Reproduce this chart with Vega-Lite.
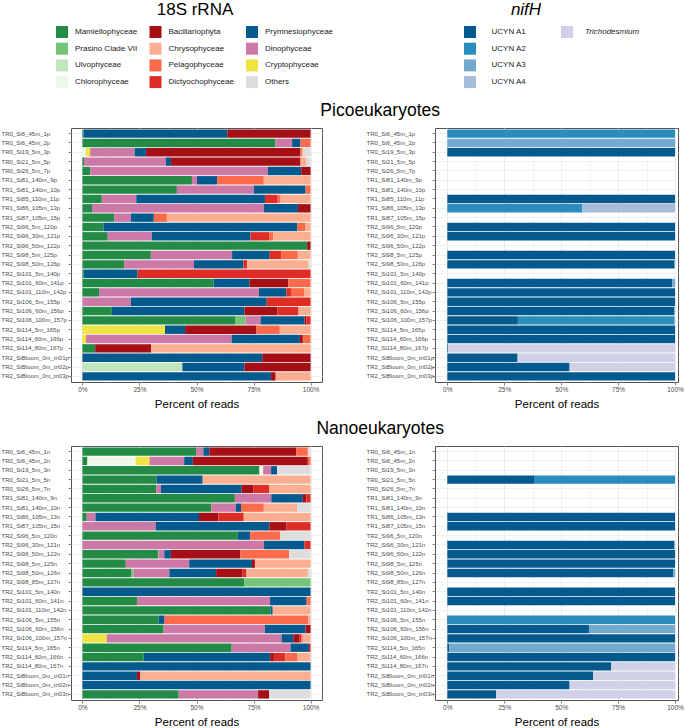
{
  "$schema": "https://vega.github.io/schema/vega-lite/v6.json",
  "padding": {"left": 0, "top": 0, "right": 0, "bottom": 0},
  "background": "white",
  "config": {
    "font": "Liberation Sans",
    "view": {"stroke": "#555555", "strokeWidth": 1},
    "title": {"fontSize": 17.5, "fontWeight": "normal", "color": "#000000", "anchor": "middle", "offset": 8, "dx": 38}
  },
  "datasets": {
    "taxa18S": [
      {"taxon": "Mamiellophyceae", "rank": 1},
      {"taxon": "Prasino Clade VII", "rank": 2},
      {"taxon": "Ulvophyceae", "rank": 3},
      {"taxon": "Chlorophyceae", "rank": 4},
      {"taxon": "Cryptophyceae", "rank": 5},
      {"taxon": "Dinophyceae", "rank": 6},
      {"taxon": "Prymnesiophyceae", "rank": 7},
      {"taxon": "Bacillariophyta", "rank": 8},
      {"taxon": "Dictyochophyceae", "rank": 9},
      {"taxon": "Pelagophyceae", "rank": 10},
      {"taxon": "Chrysophyceae", "rank": 11},
      {"taxon": "Others", "rank": 12}
    ],
    "taxaNif": [
      {"taxon": "UCYN A1", "rank": 1},
      {"taxon": "UCYN A2", "rank": 2},
      {"taxon": "UCYN A3", "rank": 3},
      {"taxon": "UCYN A4", "rank": 4},
      {"taxon": "Trichodesmium", "rank": 5}
    ],
    "pico18S": [
      {"sample": "TR0_St6_45m_1p", "taxon": "Mamiellophyceae", "pct": 0.5},
      {"sample": "TR0_St6_45m_1p", "taxon": "Prymnesiophyceae", "pct": 63.0},
      {"sample": "TR0_St6_45m_1p", "taxon": "Bacillariophyta", "pct": 36.5},
      {"sample": "TR0_St6_45m_2p", "taxon": "Mamiellophyceae", "pct": 84.6},
      {"sample": "TR0_St6_45m_2p", "taxon": "Dinophyceae", "pct": 7.3},
      {"sample": "TR0_St6_45m_2p", "taxon": "Prymnesiophyceae", "pct": 3.7},
      {"sample": "TR0_St6_45m_2p", "taxon": "Pelagophyceae", "pct": 4.4},
      {"sample": "TR0_St19_5m_3p", "taxon": "Chlorophyceae", "pct": 1.5},
      {"sample": "TR0_St19_5m_3p", "taxon": "Cryptophyceae", "pct": 1.9},
      {"sample": "TR0_St19_5m_3p", "taxon": "Dinophyceae", "pct": 19.5},
      {"sample": "TR0_St19_5m_3p", "taxon": "Prymnesiophyceae", "pct": 5.0},
      {"sample": "TR0_St19_5m_3p", "taxon": "Bacillariophyta", "pct": 67.6},
      {"sample": "TR0_St19_5m_3p", "taxon": "Pelagophyceae", "pct": 0.7},
      {"sample": "TR0_St19_5m_3p", "taxon": "Chrysophyceae", "pct": 0.5},
      {"sample": "TR0_St19_5m_3p", "taxon": "Others", "pct": 3.3},
      {"sample": "TR0_St21_5m_5p", "taxon": "Mamiellophyceae", "pct": 0.7},
      {"sample": "TR0_St21_5m_5p", "taxon": "Dinophyceae", "pct": 35.9},
      {"sample": "TR0_St21_5m_5p", "taxon": "Prymnesiophyceae", "pct": 2.2},
      {"sample": "TR0_St21_5m_5p", "taxon": "Bacillariophyta", "pct": 56.8},
      {"sample": "TR0_St21_5m_5p", "taxon": "Chrysophyceae", "pct": 2.6},
      {"sample": "TR0_St21_5m_5p", "taxon": "Others", "pct": 1.8},
      {"sample": "TR0_St26_5m_7p", "taxon": "Mamiellophyceae", "pct": 3.4},
      {"sample": "TR0_St26_5m_7p", "taxon": "Dinophyceae", "pct": 77.9},
      {"sample": "TR0_St26_5m_7p", "taxon": "Prymnesiophyceae", "pct": 14.6},
      {"sample": "TR0_St26_5m_7p", "taxon": "Bacillariophyta", "pct": 4.1},
      {"sample": "TR1_St81_140m_9p", "taxon": "Mamiellophyceae", "pct": 48.0},
      {"sample": "TR1_St81_140m_9p", "taxon": "Dinophyceae", "pct": 2.2},
      {"sample": "TR1_St81_140m_9p", "taxon": "Prymnesiophyceae", "pct": 8.8},
      {"sample": "TR1_St81_140m_9p", "taxon": "Pelagophyceae", "pct": 20.5},
      {"sample": "TR1_St81_140m_9p", "taxon": "Chrysophyceae", "pct": 20.5},
      {"sample": "TR1_St81_140m_10p", "taxon": "Mamiellophyceae", "pct": 41.4},
      {"sample": "TR1_St81_140m_10p", "taxon": "Dinophyceae", "pct": 33.7},
      {"sample": "TR1_St81_140m_10p", "taxon": "Prymnesiophyceae", "pct": 22.7},
      {"sample": "TR1_St81_140m_10p", "taxon": "Pelagophyceae", "pct": 2.2},
      {"sample": "TR1_St85_110m_11p", "taxon": "Mamiellophyceae", "pct": 8.5},
      {"sample": "TR1_St85_110m_11p", "taxon": "Dinophyceae", "pct": 15.1},
      {"sample": "TR1_St85_110m_11p", "taxon": "Prymnesiophyceae", "pct": 56.4},
      {"sample": "TR1_St85_110m_11p", "taxon": "Dictyochophyceae", "pct": 5.6},
      {"sample": "TR1_St85_110m_11p", "taxon": "Pelagophyceae", "pct": 1.3},
      {"sample": "TR1_St85_110m_11p", "taxon": "Chrysophyceae", "pct": 13.1},
      {"sample": "TR1_St86_105m_13p", "taxon": "Mamiellophyceae", "pct": 4.2},
      {"sample": "TR1_St86_105m_13p", "taxon": "Dinophyceae", "pct": 75.4},
      {"sample": "TR1_St86_105m_13p", "taxon": "Prymnesiophyceae", "pct": 14.9},
      {"sample": "TR1_St86_105m_13p", "taxon": "Bacillariophyta", "pct": 5.5},
      {"sample": "TR1_St87_105m_15p", "taxon": "Mamiellophyceae", "pct": 13.9},
      {"sample": "TR1_St87_105m_15p", "taxon": "Dinophyceae", "pct": 7.3},
      {"sample": "TR1_St87_105m_15p", "taxon": "Prymnesiophyceae", "pct": 10.1},
      {"sample": "TR1_St87_105m_15p", "taxon": "Pelagophyceae", "pct": 5.7},
      {"sample": "TR1_St87_105m_15p", "taxon": "Chrysophyceae", "pct": 63.0},
      {"sample": "TR2_St96_5m_120p", "taxon": "Mamiellophyceae", "pct": 9.2},
      {"sample": "TR2_St96_5m_120p", "taxon": "Prymnesiophyceae", "pct": 84.9},
      {"sample": "TR2_St96_5m_120p", "taxon": "Pelagophyceae", "pct": 3.7},
      {"sample": "TR2_St96_5m_120p", "taxon": "Chrysophyceae", "pct": 2.2},
      {"sample": "TR2_St96_30m_121p", "taxon": "Mamiellophyceae", "pct": 11.1},
      {"sample": "TR2_St96_30m_121p", "taxon": "Dinophyceae", "pct": 19.3},
      {"sample": "TR2_St96_30m_121p", "taxon": "Prymnesiophyceae", "pct": 43.3},
      {"sample": "TR2_St96_30m_121p", "taxon": "Dictyochophyceae", "pct": 8.1},
      {"sample": "TR2_St96_30m_121p", "taxon": "Pelagophyceae", "pct": 1.8},
      {"sample": "TR2_St96_30m_121p", "taxon": "Chrysophyceae", "pct": 16.4},
      {"sample": "TR2_St96_50m_122p", "taxon": "Mamiellophyceae", "pct": 98.5},
      {"sample": "TR2_St96_50m_122p", "taxon": "Bacillariophyta", "pct": 1.5},
      {"sample": "TR2_St98_5m_125p", "taxon": "Mamiellophyceae", "pct": 30.0},
      {"sample": "TR2_St98_5m_125p", "taxon": "Dinophyceae", "pct": 35.6},
      {"sample": "TR2_St98_5m_125p", "taxon": "Prymnesiophyceae", "pct": 16.5},
      {"sample": "TR2_St98_5m_125p", "taxon": "Dictyochophyceae", "pct": 5.0},
      {"sample": "TR2_St98_5m_125p", "taxon": "Pelagophyceae", "pct": 7.3},
      {"sample": "TR2_St98_5m_125p", "taxon": "Chrysophyceae", "pct": 5.6},
      {"sample": "TR2_St98_50m_126p", "taxon": "Mamiellophyceae", "pct": 18.3},
      {"sample": "TR2_St98_50m_126p", "taxon": "Dinophyceae", "pct": 30.6},
      {"sample": "TR2_St98_50m_126p", "taxon": "Prymnesiophyceae", "pct": 21.7},
      {"sample": "TR2_St98_50m_126p", "taxon": "Dictyochophyceae", "pct": 1.6},
      {"sample": "TR2_St98_50m_126p", "taxon": "Chrysophyceae", "pct": 26.9},
      {"sample": "TR2_St98_50m_126p", "taxon": "Others", "pct": 0.9},
      {"sample": "TR2_St101_5m_140p", "taxon": "Mamiellophyceae", "pct": 0.6},
      {"sample": "TR2_St101_5m_140p", "taxon": "Prymnesiophyceae", "pct": 23.6},
      {"sample": "TR2_St101_5m_140p", "taxon": "Dictyochophyceae", "pct": 75.8},
      {"sample": "TR2_St101_60m_141p", "taxon": "Mamiellophyceae", "pct": 57.5},
      {"sample": "TR2_St101_60m_141p", "taxon": "Prymnesiophyceae", "pct": 15.8},
      {"sample": "TR2_St101_60m_141p", "taxon": "Bacillariophyta", "pct": 16.9},
      {"sample": "TR2_St101_60m_141p", "taxon": "Pelagophyceae", "pct": 9.8},
      {"sample": "TR2_St101_110m_142p", "taxon": "Mamiellophyceae", "pct": 7.3},
      {"sample": "TR2_St101_110m_142p", "taxon": "Dinophyceae", "pct": 70.1},
      {"sample": "TR2_St101_110m_142p", "taxon": "Prymnesiophyceae", "pct": 12.0},
      {"sample": "TR2_St101_110m_142p", "taxon": "Dictyochophyceae", "pct": 2.0},
      {"sample": "TR2_St101_110m_142p", "taxon": "Pelagophyceae", "pct": 5.7},
      {"sample": "TR2_St101_110m_142p", "taxon": "Chrysophyceae", "pct": 2.9},
      {"sample": "TR2_St106_5m_155p", "taxon": "Dinophyceae", "pct": 21.2},
      {"sample": "TR2_St106_5m_155p", "taxon": "Prymnesiophyceae", "pct": 59.6},
      {"sample": "TR2_St106_5m_155p", "taxon": "Dictyochophyceae", "pct": 19.2},
      {"sample": "TR2_St106_60m_156p", "taxon": "Mamiellophyceae", "pct": 12.9},
      {"sample": "TR2_St106_60m_156p", "taxon": "Prymnesiophyceae", "pct": 58.1},
      {"sample": "TR2_St106_60m_156p", "taxon": "Bacillariophyta", "pct": 14.5},
      {"sample": "TR2_St106_60m_156p", "taxon": "Dictyochophyceae", "pct": 9.2},
      {"sample": "TR2_St106_60m_156p", "taxon": "Chrysophyceae", "pct": 5.3},
      {"sample": "TR2_St106_100m_157p", "taxon": "Mamiellophyceae", "pct": 67.1},
      {"sample": "TR2_St106_100m_157p", "taxon": "Prasino Clade VII", "pct": 4.4},
      {"sample": "TR2_St106_100m_157p", "taxon": "Dinophyceae", "pct": 6.6},
      {"sample": "TR2_St106_100m_157p", "taxon": "Prymnesiophyceae", "pct": 19.3},
      {"sample": "TR2_St106_100m_157p", "taxon": "Bacillariophyta", "pct": 0.7},
      {"sample": "TR2_St106_100m_157p", "taxon": "Dictyochophyceae", "pct": 1.9},
      {"sample": "TR2_St114_5m_165p", "taxon": "Cryptophyceae", "pct": 36.2},
      {"sample": "TR2_St114_5m_165p", "taxon": "Prymnesiophyceae", "pct": 8.8},
      {"sample": "TR2_St114_5m_165p", "taxon": "Bacillariophyta", "pct": 31.3},
      {"sample": "TR2_St114_5m_165p", "taxon": "Pelagophyceae", "pct": 10.2},
      {"sample": "TR2_St114_5m_165p", "taxon": "Chrysophyceae", "pct": 13.5},
      {"sample": "TR2_St114_60m_166p", "taxon": "Cryptophyceae", "pct": 1.6},
      {"sample": "TR2_St114_60m_166p", "taxon": "Dinophyceae", "pct": 63.8},
      {"sample": "TR2_St114_60m_166p", "taxon": "Prymnesiophyceae", "pct": 29.9},
      {"sample": "TR2_St114_60m_166p", "taxon": "Bacillariophyta", "pct": 1.3},
      {"sample": "TR2_St114_60m_166p", "taxon": "Pelagophyceae", "pct": 3.4},
      {"sample": "TR2_St114_80m_167p", "taxon": "Mamiellophyceae", "pct": 5.6},
      {"sample": "TR2_St114_80m_167p", "taxon": "Bacillariophyta", "pct": 24.5},
      {"sample": "TR2_St114_80m_167p", "taxon": "Chrysophyceae", "pct": 69.9},
      {"sample": "TR2_StBloom_0m_tri01p", "taxon": "Prymnesiophyceae", "pct": 78.8},
      {"sample": "TR2_StBloom_0m_tri01p", "taxon": "Bacillariophyta", "pct": 21.2},
      {"sample": "TR2_StBloom_0m_tri02p", "taxon": "Ulvophyceae", "pct": 43.8},
      {"sample": "TR2_StBloom_0m_tri02p", "taxon": "Prymnesiophyceae", "pct": 27.2},
      {"sample": "TR2_StBloom_0m_tri02p", "taxon": "Bacillariophyta", "pct": 29.0},
      {"sample": "TR2_StBloom_0m_tri03p", "taxon": "Prymnesiophyceae", "pct": 82.7},
      {"sample": "TR2_StBloom_0m_tri03p", "taxon": "Bacillariophyta", "pct": 2.0},
      {"sample": "TR2_StBloom_0m_tri03p", "taxon": "Chrysophyceae", "pct": 15.3}
    ],
    "nano18S": [
      {"sample": "TR0_St6_45m_1n", "taxon": "Mamiellophyceae", "pct": 49.8},
      {"sample": "TR0_St6_45m_1n", "taxon": "Dinophyceae", "pct": 3.2},
      {"sample": "TR0_St6_45m_1n", "taxon": "Prymnesiophyceae", "pct": 2.6},
      {"sample": "TR0_St6_45m_1n", "taxon": "Bacillariophyta", "pct": 38.2},
      {"sample": "TR0_St6_45m_1n", "taxon": "Pelagophyceae", "pct": 5.0},
      {"sample": "TR0_St6_45m_1n", "taxon": "Others", "pct": 1.2},
      {"sample": "TR0_St6_45m_2n", "taxon": "Mamiellophyceae", "pct": 2.2},
      {"sample": "TR0_St6_45m_2n", "taxon": "Chlorophyceae", "pct": 21.1},
      {"sample": "TR0_St6_45m_2n", "taxon": "Cryptophyceae", "pct": 6.1},
      {"sample": "TR0_St6_45m_2n", "taxon": "Dinophyceae", "pct": 15.2},
      {"sample": "TR0_St6_45m_2n", "taxon": "Prymnesiophyceae", "pct": 3.8},
      {"sample": "TR0_St6_45m_2n", "taxon": "Bacillariophyta", "pct": 50.4},
      {"sample": "TR0_St6_45m_2n", "taxon": "Pelagophyceae", "pct": 1.2},
      {"sample": "TR0_St19_5m_3n", "taxon": "Mamiellophyceae", "pct": 77.6},
      {"sample": "TR0_St19_5m_3n", "taxon": "Chlorophyceae", "pct": 1.6},
      {"sample": "TR0_St19_5m_3n", "taxon": "Dinophyceae", "pct": 3.5},
      {"sample": "TR0_St19_5m_3n", "taxon": "Prymnesiophyceae", "pct": 2.6},
      {"sample": "TR0_St19_5m_3n", "taxon": "Others", "pct": 14.7},
      {"sample": "TR0_St21_5m_5n", "taxon": "Mamiellophyceae", "pct": 32.5},
      {"sample": "TR0_St21_5m_5n", "taxon": "Prymnesiophyceae", "pct": 20.2},
      {"sample": "TR0_St21_5m_5n", "taxon": "Chrysophyceae", "pct": 47.3},
      {"sample": "TR0_St26_5m_7n", "taxon": "Mamiellophyceae", "pct": 32.4},
      {"sample": "TR0_St26_5m_7n", "taxon": "Dinophyceae", "pct": 2.0},
      {"sample": "TR0_St26_5m_7n", "taxon": "Prymnesiophyceae", "pct": 35.4},
      {"sample": "TR0_St26_5m_7n", "taxon": "Bacillariophyta", "pct": 5.1},
      {"sample": "TR0_St26_5m_7n", "taxon": "Dictyochophyceae", "pct": 6.9},
      {"sample": "TR0_St26_5m_7n", "taxon": "Chrysophyceae", "pct": 18.2},
      {"sample": "TR1_St81_140m_9n", "taxon": "Mamiellophyceae", "pct": 66.8},
      {"sample": "TR1_St81_140m_9n", "taxon": "Dinophyceae", "pct": 16.0},
      {"sample": "TR1_St81_140m_9n", "taxon": "Prymnesiophyceae", "pct": 13.8},
      {"sample": "TR1_St81_140m_9n", "taxon": "Bacillariophyta", "pct": 1.6},
      {"sample": "TR1_St81_140m_9n", "taxon": "Dictyochophyceae", "pct": 1.8},
      {"sample": "TR1_St81_140m_10n", "taxon": "Mamiellophyceae", "pct": 56.5},
      {"sample": "TR1_St81_140m_10n", "taxon": "Dinophyceae", "pct": 10.7},
      {"sample": "TR1_St81_140m_10n", "taxon": "Prymnesiophyceae", "pct": 2.3},
      {"sample": "TR1_St81_140m_10n", "taxon": "Pelagophyceae", "pct": 10.0},
      {"sample": "TR1_St81_140m_10n", "taxon": "Chrysophyceae", "pct": 14.6},
      {"sample": "TR1_St81_140m_10n", "taxon": "Others", "pct": 5.9},
      {"sample": "TR1_St86_105m_13n", "taxon": "Mamiellophyceae", "pct": 1.9},
      {"sample": "TR1_St86_105m_13n", "taxon": "Dinophyceae", "pct": 3.8},
      {"sample": "TR1_St86_105m_13n", "taxon": "Prymnesiophyceae", "pct": 45.4},
      {"sample": "TR1_St86_105m_13n", "taxon": "Bacillariophyta", "pct": 8.5},
      {"sample": "TR1_St86_105m_13n", "taxon": "Dictyochophyceae", "pct": 11.1},
      {"sample": "TR1_St86_105m_13n", "taxon": "Chrysophyceae", "pct": 29.3},
      {"sample": "TR1_St87_105m_15n", "taxon": "Dinophyceae", "pct": 32.1},
      {"sample": "TR1_St87_105m_15n", "taxon": "Prymnesiophyceae", "pct": 49.8},
      {"sample": "TR1_St87_105m_15n", "taxon": "Bacillariophyta", "pct": 7.6},
      {"sample": "TR1_St87_105m_15n", "taxon": "Dictyochophyceae", "pct": 10.5},
      {"sample": "TR2_St96_5m_120n", "taxon": "Mamiellophyceae", "pct": 68.1},
      {"sample": "TR2_St96_5m_120n", "taxon": "Prymnesiophyceae", "pct": 5.4},
      {"sample": "TR2_St96_5m_120n", "taxon": "Pelagophyceae", "pct": 13.2},
      {"sample": "TR2_St96_5m_120n", "taxon": "Others", "pct": 13.3},
      {"sample": "TR2_St96_30m_121n", "taxon": "Dinophyceae", "pct": 79.6},
      {"sample": "TR2_St96_30m_121n", "taxon": "Prymnesiophyceae", "pct": 17.7},
      {"sample": "TR2_St96_30m_121n", "taxon": "Dictyochophyceae", "pct": 2.7},
      {"sample": "TR2_St96_50m_122n", "taxon": "Mamiellophyceae", "pct": 33.1},
      {"sample": "TR2_St96_50m_122n", "taxon": "Prasino Clade VII", "pct": 0.3},
      {"sample": "TR2_St96_50m_122n", "taxon": "Dinophyceae", "pct": 2.5},
      {"sample": "TR2_St96_50m_122n", "taxon": "Prymnesiophyceae", "pct": 2.9},
      {"sample": "TR2_St96_50m_122n", "taxon": "Bacillariophyta", "pct": 30.3},
      {"sample": "TR2_St96_50m_122n", "taxon": "Pelagophyceae", "pct": 21.5},
      {"sample": "TR2_St96_50m_122n", "taxon": "Others", "pct": 9.4},
      {"sample": "TR2_St98_5m_125n", "taxon": "Mamiellophyceae", "pct": 19.0},
      {"sample": "TR2_St98_5m_125n", "taxon": "Dinophyceae", "pct": 27.8},
      {"sample": "TR2_St98_5m_125n", "taxon": "Prymnesiophyceae", "pct": 27.5},
      {"sample": "TR2_St98_5m_125n", "taxon": "Bacillariophyta", "pct": 1.3},
      {"sample": "TR2_St98_5m_125n", "taxon": "Chrysophyceae", "pct": 24.4},
      {"sample": "TR2_St98_50m_126n", "taxon": "Mamiellophyceae", "pct": 21.5},
      {"sample": "TR2_St98_50m_126n", "taxon": "Prasino Clade VII", "pct": 0.9},
      {"sample": "TR2_St98_50m_126n", "taxon": "Dinophyceae", "pct": 15.7},
      {"sample": "TR2_St98_50m_126n", "taxon": "Prymnesiophyceae", "pct": 20.5},
      {"sample": "TR2_St98_50m_126n", "taxon": "Bacillariophyta", "pct": 11.4},
      {"sample": "TR2_St98_50m_126n", "taxon": "Dictyochophyceae", "pct": 1.9},
      {"sample": "TR2_St98_50m_126n", "taxon": "Chrysophyceae", "pct": 26.9},
      {"sample": "TR2_St98_50m_126n", "taxon": "Others", "pct": 1.2},
      {"sample": "TR2_St98_85m_127n", "taxon": "Mamiellophyceae", "pct": 70.9},
      {"sample": "TR2_St98_85m_127n", "taxon": "Prasino Clade VII", "pct": 29.1},
      {"sample": "TR2_St101_5m_140n", "taxon": "Prymnesiophyceae", "pct": 100},
      {"sample": "TR2_St101_60m_141n", "taxon": "Mamiellophyceae", "pct": 23.9},
      {"sample": "TR2_St101_60m_141n", "taxon": "Dinophyceae", "pct": 58.3},
      {"sample": "TR2_St101_60m_141n", "taxon": "Prymnesiophyceae", "pct": 16.0},
      {"sample": "TR2_St101_60m_141n", "taxon": "Dictyochophyceae", "pct": 0.3},
      {"sample": "TR2_St101_60m_141n", "taxon": "Pelagophyceae", "pct": 1.5},
      {"sample": "TR2_St101_110m_142n", "taxon": "Mamiellophyceae", "pct": 82.4},
      {"sample": "TR2_St101_110m_142n", "taxon": "Prymnesiophyceae", "pct": 1.0},
      {"sample": "TR2_St101_110m_142n", "taxon": "Chrysophyceae", "pct": 16.6},
      {"sample": "TR2_St106_5m_155n", "taxon": "Mamiellophyceae", "pct": 33.4},
      {"sample": "TR2_St106_5m_155n", "taxon": "Prymnesiophyceae", "pct": 2.6},
      {"sample": "TR2_St106_5m_155n", "taxon": "Pelagophyceae", "pct": 63.0},
      {"sample": "TR2_St106_5m_155n", "taxon": "Chrysophyceae", "pct": 1.0},
      {"sample": "TR2_St106_60m_156n", "taxon": "Mamiellophyceae", "pct": 35.6},
      {"sample": "TR2_St106_60m_156n", "taxon": "Dinophyceae", "pct": 44.4},
      {"sample": "TR2_St106_60m_156n", "taxon": "Prymnesiophyceae", "pct": 17.8},
      {"sample": "TR2_St106_60m_156n", "taxon": "Bacillariophyta", "pct": 2.2},
      {"sample": "TR2_St106_100m_157n", "taxon": "Cryptophyceae", "pct": 10.7},
      {"sample": "TR2_St106_100m_157n", "taxon": "Dinophyceae", "pct": 76.6},
      {"sample": "TR2_St106_100m_157n", "taxon": "Prymnesiophyceae", "pct": 5.1},
      {"sample": "TR2_St106_100m_157n", "taxon": "Bacillariophyta", "pct": 2.8},
      {"sample": "TR2_St106_100m_157n", "taxon": "Dictyochophyceae", "pct": 0.7},
      {"sample": "TR2_St106_100m_157n", "taxon": "Pelagophyceae", "pct": 0.7},
      {"sample": "TR2_St106_100m_157n", "taxon": "Chrysophyceae", "pct": 3.4},
      {"sample": "TR2_St114_5m_165n", "taxon": "Mamiellophyceae", "pct": 65.4},
      {"sample": "TR2_St114_5m_165n", "taxon": "Dinophyceae", "pct": 25.8},
      {"sample": "TR2_St114_5m_165n", "taxon": "Prymnesiophyceae", "pct": 8.1},
      {"sample": "TR2_St114_5m_165n", "taxon": "Dictyochophyceae", "pct": 0.7},
      {"sample": "TR2_St114_60m_166n", "taxon": "Mamiellophyceae", "pct": 26.8},
      {"sample": "TR2_St114_60m_166n", "taxon": "Prymnesiophyceae", "pct": 55.5},
      {"sample": "TR2_St114_60m_166n", "taxon": "Bacillariophyta", "pct": 1.6},
      {"sample": "TR2_St114_60m_166n", "taxon": "Dictyochophyceae", "pct": 5.0},
      {"sample": "TR2_St114_60m_166n", "taxon": "Pelagophyceae", "pct": 5.4},
      {"sample": "TR2_St114_60m_166n", "taxon": "Chrysophyceae", "pct": 5.7},
      {"sample": "TR2_St114_80m_167n", "taxon": "Prymnesiophyceae", "pct": 100},
      {"sample": "TR2_StBloom_0m_tri01n", "taxon": "Prymnesiophyceae", "pct": 23.9},
      {"sample": "TR2_StBloom_0m_tri01n", "taxon": "Bacillariophyta", "pct": 1.5},
      {"sample": "TR2_StBloom_0m_tri01n", "taxon": "Chrysophyceae", "pct": 74.6},
      {"sample": "TR2_StBloom_0m_tri02n", "taxon": "Prymnesiophyceae", "pct": 100},
      {"sample": "TR2_StBloom_0m_tri03n", "taxon": "Mamiellophyceae", "pct": 42.2},
      {"sample": "TR2_StBloom_0m_tri03n", "taxon": "Dinophyceae", "pct": 34.8},
      {"sample": "TR2_StBloom_0m_tri03n", "taxon": "Bacillariophyta", "pct": 4.8},
      {"sample": "TR2_StBloom_0m_tri03n", "taxon": "Others", "pct": 18.2}
    ],
    "picoNif": [
      {"sample": "TR0_St6_45m_1p", "taxon": "UCYN A2", "pct": 100},
      {"sample": "TR0_St6_45m_2p", "taxon": "UCYN A3", "pct": 100},
      {"sample": "TR0_St19_5m_3p", "taxon": "UCYN A1", "pct": 100},
      {"sample": "TR1_St85_110m_11p", "taxon": "UCYN A1", "pct": 100},
      {"sample": "TR1_St86_105m_13p", "taxon": "UCYN A2", "pct": 59.2},
      {"sample": "TR1_St86_105m_13p", "taxon": "UCYN A4", "pct": 40.8},
      {"sample": "TR2_St96_5m_120p", "taxon": "UCYN A1", "pct": 100},
      {"sample": "TR2_St96_30m_121p", "taxon": "UCYN A1", "pct": 100},
      {"sample": "TR2_St98_5m_125p", "taxon": "UCYN A1", "pct": 100},
      {"sample": "TR2_St98_50m_126p", "taxon": "UCYN A1", "pct": 99.8},
      {"sample": "TR2_St98_50m_126p", "taxon": "UCYN A3", "pct": 0.2},
      {"sample": "TR2_St101_60m_141p", "taxon": "UCYN A1", "pct": 98.8},
      {"sample": "TR2_St101_60m_141p", "taxon": "UCYN A3", "pct": 1.2},
      {"sample": "TR2_St101_110m_142p", "taxon": "UCYN A1", "pct": 100},
      {"sample": "TR2_St106_5m_155p", "taxon": "UCYN A1", "pct": 100},
      {"sample": "TR2_St106_60m_156p", "taxon": "UCYN A1", "pct": 99.7},
      {"sample": "TR2_St106_60m_156p", "taxon": "UCYN A3", "pct": 0.3},
      {"sample": "TR2_St106_100m_157p", "taxon": "UCYN A1", "pct": 31.0},
      {"sample": "TR2_St106_100m_157p", "taxon": "UCYN A2", "pct": 68.7},
      {"sample": "TR2_St106_100m_157p", "taxon": "UCYN A3", "pct": 0.3},
      {"sample": "TR2_St114_5m_165p", "taxon": "UCYN A1", "pct": 100},
      {"sample": "TR2_St114_60m_166p", "taxon": "UCYN A1", "pct": 100},
      {"sample": "TR2_St114_80m_167p", "taxon": "UCYN A1", "pct": 0.3},
      {"sample": "TR2_St114_80m_167p", "taxon": "Trichodesmium", "pct": 99.7},
      {"sample": "TR2_StBloom_0m_tri01p", "taxon": "UCYN A1", "pct": 30.7},
      {"sample": "TR2_StBloom_0m_tri01p", "taxon": "UCYN A3", "pct": 0.4},
      {"sample": "TR2_StBloom_0m_tri01p", "taxon": "Trichodesmium", "pct": 68.9},
      {"sample": "TR2_StBloom_0m_tri02p", "taxon": "UCYN A1", "pct": 53.7},
      {"sample": "TR2_StBloom_0m_tri02p", "taxon": "Trichodesmium", "pct": 46.3},
      {"sample": "TR2_StBloom_0m_tri03p", "taxon": "UCYN A1", "pct": 100}
    ],
    "nanoNif": [
      {"sample": "TR0_St21_5m_5n", "taxon": "UCYN A1", "pct": 38.1},
      {"sample": "TR0_St21_5m_5n", "taxon": "UCYN A2", "pct": 61.9},
      {"sample": "TR1_St86_105m_13n", "taxon": "UCYN A1", "pct": 100},
      {"sample": "TR1_St87_105m_15n", "taxon": "UCYN A1", "pct": 100},
      {"sample": "TR2_St96_30m_121n", "taxon": "UCYN A1", "pct": 99.7},
      {"sample": "TR2_St96_30m_121n", "taxon": "UCYN A3", "pct": 0.3},
      {"sample": "TR2_St96_50m_122n", "taxon": "UCYN A1", "pct": 100},
      {"sample": "TR2_St98_5m_125n", "taxon": "UCYN A1", "pct": 100},
      {"sample": "TR2_St98_50m_126n", "taxon": "UCYN A1", "pct": 99.3},
      {"sample": "TR2_St98_50m_126n", "taxon": "UCYN A3", "pct": 0.7},
      {"sample": "TR2_St101_5m_140n", "taxon": "UCYN A1", "pct": 100},
      {"sample": "TR2_St101_60m_141n", "taxon": "UCYN A1", "pct": 100},
      {"sample": "TR2_St106_5m_155n", "taxon": "UCYN A1", "pct": 0.3},
      {"sample": "TR2_St106_5m_155n", "taxon": "UCYN A2", "pct": 99.7},
      {"sample": "TR2_St106_60m_156n", "taxon": "UCYN A1", "pct": 62.2},
      {"sample": "TR2_St106_60m_156n", "taxon": "UCYN A3", "pct": 37.8},
      {"sample": "TR2_St106_100m_157n", "taxon": "UCYN A1", "pct": 100},
      {"sample": "TR2_St114_5m_165n", "taxon": "UCYN A1", "pct": 0.8},
      {"sample": "TR2_St114_5m_165n", "taxon": "UCYN A3", "pct": 99.2},
      {"sample": "TR2_St114_60m_166n", "taxon": "UCYN A1", "pct": 100},
      {"sample": "TR2_St114_80m_167n", "taxon": "UCYN A1", "pct": 72.0},
      {"sample": "TR2_St114_80m_167n", "taxon": "Trichodesmium", "pct": 28.0},
      {"sample": "TR2_StBloom_0m_tri01n", "taxon": "UCYN A1", "pct": 64.1},
      {"sample": "TR2_StBloom_0m_tri01n", "taxon": "Trichodesmium", "pct": 35.9},
      {"sample": "TR2_StBloom_0m_tri02n", "taxon": "UCYN A1", "pct": 53.7},
      {"sample": "TR2_StBloom_0m_tri02n", "taxon": "Trichodesmium", "pct": 46.3},
      {"sample": "TR2_StBloom_0m_tri03n", "taxon": "UCYN A1", "pct": 21.4},
      {"sample": "TR2_StBloom_0m_tri03n", "taxon": "Trichodesmium", "pct": 78.6}
    ]
  },
  "spacing": 10,
  "resolve": {"scale": {"color": "independent", "x": "independent", "y": "independent"}, "legend": {"color": "independent"}},
  "vconcat": [
    {
      "width": 560,
      "height": 92,
      "view": {"stroke": null},
      "resolve": {"scale": {"color": "independent"}, "legend": {"color": "independent"}},
      "layer": [
        {
          "data": {"name": "taxa18S"},
          "mark": {"type": "square", "opacity": 0},
          "encoding": {
            "color": {
              "field": "taxon", "type": "nominal",
              "scale": {
                "domain": ["Mamiellophyceae", "Prasino Clade VII", "Ulvophyceae", "Chlorophyceae", "Bacillariophyta", "Chrysophyceae", "Pelagophyceae", "Dictyochophyceae", "Prymnesiophyceae", "Dinophyceae", "Cryptophyceae", "Others"],
                "range": ["#238b45", "#74c476", "#c2e6bb", "#edf8e9", "#a50f15", "#fcae91", "#fb6a4a", "#de2d26", "#045a8d", "#cc79a7", "#f0e442", "#dddddd"]
              },
              "legend": {
                "orient": "none", "legendX": -15, "legendY": 2, "columns": 3,
                "title": "18S rRNA", "titleFontSize": 17, "titleFontWeight": "normal", "titleColor": "#000000",
                "titleAnchor": "middle", "titlePadding": 7,
                "symbolType": "square", "symbolSize": 144, "symbolOpacity": 1, "symbolStrokeWidth": 0,
                "labelFontSize": 8, "labelColor": "#222222", "labelOffset": 7,
                "rowPadding": 4.7, "columnPadding": 11.5, "padding": 0
              }
            }
          }
        },
        {
          "data": {"name": "taxaNif"},
          "transform": [{"filter": "datum.rank < 5"}],
          "mark": {"type": "square", "opacity": 0},
          "encoding": {
            "color": {
              "field": "taxon", "type": "nominal",
              "scale": {"domain": ["UCYN A1", "UCYN A2", "UCYN A3", "UCYN A4"], "range": ["#045a8d", "#2b8cbe", "#74a9cf", "#a6bddb"]},
              "legend": {
                "orient": "none", "legendX": 393, "legendY": 2, "columns": 1,
                "title": "nifH", "titleFontSize": 17, "titleFontWeight": "normal", "titleFontStyle": "italic", "titleColor": "#000000",
                "titleAnchor": "end", "titleAlign": "center", "titlePadding": 7,
                "symbolType": "square", "symbolSize": 144, "symbolOpacity": 1, "symbolStrokeWidth": 0,
                "labelFontSize": 8, "labelColor": "#222222", "labelOffset": 15.5,
                "rowPadding": 4.7, "padding": 0
              }
            }
          }
        },
        {
          "data": {"name": "taxaNif"},
          "transform": [{"filter": "datum.rank == 5"}],
          "mark": {"type": "square", "opacity": 0},
          "encoding": {
            "color": {
              "field": "taxon", "type": "nominal",
              "scale": {"domain": ["Trichodesmium"], "range": ["#d0d1e6"]},
              "legend": {
                "orient": "none", "legendX": 490, "legendY": 26, "title": null,
                "symbolType": "square", "symbolSize": 144, "symbolOpacity": 1, "symbolStrokeWidth": 0,
                "labelFontSize": 8, "labelColor": "#222222", "labelFontStyle": "italic", "labelOffset": 12, "padding": 0
              }
            }
          }
        }
      ]
    },
    {
      "title": {"text": "Picoeukaryotes"},
      "spacing": 42,
      "resolve": {"scale": {"color": "independent", "x": "independent", "y": "independent"}},
      "hconcat": [
        {
          "width": 251, "height": 254,
          "data": {"name": "pico18S"},
          "transform": [{"lookup": "taxon", "from": {"data": {"name": "taxa18S"}, "key": "taxon", "fields": ["rank"]}}],
          "mark": {"type": "bar"},
          "encoding": {
            "y": {"field": "sample", "type": "nominal", "sort": null,
              "scale": {"domain": ["TR0_St6_45m_1p","TR0_St6_45m_2p","TR0_St19_5m_3p","TR0_St21_5m_5p","TR0_St26_5m_7p","TR1_St81_140m_9p","TR1_St81_140m_10p","TR1_St85_110m_11p","TR1_St86_105m_13p","TR1_St87_105m_15p","TR2_St96_5m_120p","TR2_St96_30m_121p","TR2_St96_50m_122p","TR2_St98_5m_125p","TR2_St98_50m_126p","TR2_St101_5m_140p","TR2_St101_60m_141p","TR2_St101_110m_142p","TR2_St106_5m_155p","TR2_St106_60m_156p","TR2_St106_100m_157p","TR2_St114_5m_165p","TR2_St114_60m_166p","TR2_St114_80m_167p","TR2_StBloom_0m_tri01p","TR2_StBloom_0m_tri02p","TR2_StBloom_0m_tri03p"], "paddingInner": 0.1, "paddingOuter": 0.15},
              "axis": {"title": null, "labelAlign": "left", "labelPadding": 67, "labelFontSize": 6, "labelColor": "#4d4d4d", "tickSize": 3, "tickColor": "#333333", "tickWidth": 0.6, "domain": false, "grid": true, "gridColor": "#ebebeb", "gridWidth": 0.8}},
            "x": {"field": "pct", "type": "quantitative", "stack": "zero",
              "scale": {"domain": [-5, 105], "nice": false, "zero": false},
              "axis": {"title": "Percent of reads", "values": [0, 12.5, 25, 37.5, 50, 62.5, 75, 87.5, 100],
                "labelExpr": "datum.value % 25 === 0 ? datum.value + '%' : ''",
                "labelFontSize": 6.5, "labelColor": "#4d4d4d", "labelPadding": 1.5, "labelFlush": false, "labelOverlap": false,
                "tickSize": 3, "tickColor": "#333333", "tickWidth": 0.6,
                "tickOpacity": {"condition": {"test": "datum.value % 25 !== 0", "value": 0}, "value": 1},
                "domain": false, "grid": true, "gridColor": "#ebebeb",
                "gridWidth": {"condition": {"test": "datum.value % 25 !== 0", "value": 0.5}, "value": 0.9},
                "titleFontSize": 11.5, "titleFontWeight": "normal", "titleColor": "#000000", "titlePadding": 5}},
            "color": {"field": "taxon", "type": "nominal",
              "scale": {"domain": ["Mamiellophyceae", "Prasino Clade VII", "Ulvophyceae", "Chlorophyceae", "Cryptophyceae", "Dinophyceae", "Prymnesiophyceae", "Bacillariophyta", "Dictyochophyceae", "Pelagophyceae", "Chrysophyceae", "Others"],
                "range": ["#238b45", "#74c476", "#c2e6bb", "#edf8e9", "#f0e442", "#cc79a7", "#045a8d", "#a50f15", "#de2d26", "#fb6a4a", "#fcae91", "#dddddd"]},
              "legend": null},
            "order": {"field": "rank", "type": "quantitative"}
          }
        },
        {
          "width": 243, "height": 254,
          "data": {"name": "picoNif"},
          "transform": [{"lookup": "taxon", "from": {"data": {"name": "taxaNif"}, "key": "taxon", "fields": ["rank"]}}],
          "mark": {"type": "bar"},
          "encoding": {
            "y": {"field": "sample", "type": "nominal", "sort": null,
              "scale": {"domain": ["TR0_St6_45m_1p","TR0_St6_45m_2p","TR0_St19_5m_3p","TR0_St21_5m_5p","TR0_St26_5m_7p","TR1_St81_140m_9p","TR1_St81_140m_10p","TR1_St85_110m_11p","TR1_St86_105m_13p","TR1_St87_105m_15p","TR2_St96_5m_120p","TR2_St96_30m_121p","TR2_St96_50m_122p","TR2_St98_5m_125p","TR2_St98_50m_126p","TR2_St101_5m_140p","TR2_St101_60m_141p","TR2_St101_110m_142p","TR2_St106_5m_155p","TR2_St106_60m_156p","TR2_St106_100m_157p","TR2_St114_5m_165p","TR2_St114_60m_166p","TR2_St114_80m_167p","TR2_StBloom_0m_tri01p","TR2_StBloom_0m_tri02p","TR2_StBloom_0m_tri03p"], "paddingInner": 0.1, "paddingOuter": 0.15},
              "axis": {"title": null, "labelAlign": "left", "labelPadding": 66, "labelFontSize": 6, "labelColor": "#4d4d4d", "tickSize": 3, "tickColor": "#333333", "tickWidth": 0.6, "domain": false, "grid": true, "gridColor": "#ebebeb", "gridWidth": 0.8}},
            "x": {"field": "pct", "type": "quantitative", "stack": "zero",
              "scale": {"domain": [-5.4, 101.3], "nice": false, "zero": false},
              "axis": {"title": "Percent of reads", "values": [0, 12.5, 25, 37.5, 50, 62.5, 75, 87.5, 100],
                "labelExpr": "datum.value % 25 === 0 ? datum.value + '%' : ''",
                "labelFontSize": 6.5, "labelColor": "#4d4d4d", "labelPadding": 1.5, "labelFlush": false, "labelOverlap": false,
                "tickSize": 3, "tickColor": "#333333", "tickWidth": 0.6,
                "tickOpacity": {"condition": {"test": "datum.value % 25 !== 0", "value": 0}, "value": 1},
                "domain": false, "grid": true, "gridColor": "#ebebeb",
                "gridWidth": {"condition": {"test": "datum.value % 25 !== 0", "value": 0.5}, "value": 0.9},
                "titleFontSize": 11.5, "titleFontWeight": "normal", "titleColor": "#000000", "titlePadding": 5}},
            "color": {"field": "taxon", "type": "nominal",
              "scale": {"domain": ["UCYN A1", "UCYN A2", "UCYN A3", "UCYN A4", "Trichodesmium"], "range": ["#045a8d", "#2b8cbe", "#74a9cf", "#a6bddb", "#d0d1e6"]},
              "legend": null},
            "order": {"field": "rank", "type": "quantitative"}
          }
        }
      ]
    },
    {
      "title": {"text": "Nanoeukaryotes"},
      "spacing": 42,
      "resolve": {"scale": {"color": "independent", "x": "independent", "y": "independent"}},
      "hconcat": [
        {
          "width": 251, "height": 254,
          "data": {"name": "nano18S"},
          "transform": [{"lookup": "taxon", "from": {"data": {"name": "taxa18S"}, "key": "taxon", "fields": ["rank"]}}],
          "mark": {"type": "bar"},
          "encoding": {
            "y": {"field": "sample", "type": "nominal", "sort": null,
              "scale": {"domain": ["TR0_St6_45m_1n","TR0_St6_45m_2n","TR0_St19_5m_3n","TR0_St21_5m_5n","TR0_St26_5m_7n","TR1_St81_140m_9n","TR1_St81_140m_10n","TR1_St86_105m_13n","TR1_St87_105m_15n","TR2_St96_5m_120n","TR2_St96_30m_121n","TR2_St96_50m_122n","TR2_St98_5m_125n","TR2_St98_50m_126n","TR2_St98_85m_127n","TR2_St101_5m_140n","TR2_St101_60m_141n","TR2_St101_110m_142n","TR2_St106_5m_155n","TR2_St106_60m_156n","TR2_St106_100m_157n","TR2_St114_5m_165n","TR2_St114_60m_166n","TR2_St114_80m_167n","TR2_StBloom_0m_tri01n","TR2_StBloom_0m_tri02n","TR2_StBloom_0m_tri03n"], "paddingInner": 0.1, "paddingOuter": 0.15},
              "axis": {"title": null, "labelAlign": "left", "labelPadding": 67, "labelFontSize": 6, "labelColor": "#4d4d4d", "tickSize": 3, "tickColor": "#333333", "tickWidth": 0.6, "domain": false, "grid": true, "gridColor": "#ebebeb", "gridWidth": 0.8}},
            "x": {"field": "pct", "type": "quantitative", "stack": "zero",
              "scale": {"domain": [-5, 105], "nice": false, "zero": false},
              "axis": {"title": "Percent of reads", "values": [0, 12.5, 25, 37.5, 50, 62.5, 75, 87.5, 100],
                "labelExpr": "datum.value % 25 === 0 ? datum.value + '%' : ''",
                "labelFontSize": 6.5, "labelColor": "#4d4d4d", "labelPadding": 1.5, "labelFlush": false, "labelOverlap": false,
                "tickSize": 3, "tickColor": "#333333", "tickWidth": 0.6,
                "tickOpacity": {"condition": {"test": "datum.value % 25 !== 0", "value": 0}, "value": 1},
                "domain": false, "grid": true, "gridColor": "#ebebeb",
                "gridWidth": {"condition": {"test": "datum.value % 25 !== 0", "value": 0.5}, "value": 0.9},
                "titleFontSize": 11.5, "titleFontWeight": "normal", "titleColor": "#000000", "titlePadding": 5}},
            "color": {"field": "taxon", "type": "nominal",
              "scale": {"domain": ["Mamiellophyceae", "Prasino Clade VII", "Ulvophyceae", "Chlorophyceae", "Cryptophyceae", "Dinophyceae", "Prymnesiophyceae", "Bacillariophyta", "Dictyochophyceae", "Pelagophyceae", "Chrysophyceae", "Others"],
                "range": ["#238b45", "#74c476", "#c2e6bb", "#edf8e9", "#f0e442", "#cc79a7", "#045a8d", "#a50f15", "#de2d26", "#fb6a4a", "#fcae91", "#dddddd"]},
              "legend": null},
            "order": {"field": "rank", "type": "quantitative"}
          }
        },
        {
          "width": 243, "height": 254,
          "data": {"name": "nanoNif"},
          "transform": [{"lookup": "taxon", "from": {"data": {"name": "taxaNif"}, "key": "taxon", "fields": ["rank"]}}],
          "mark": {"type": "bar"},
          "encoding": {
            "y": {"field": "sample", "type": "nominal", "sort": null,
              "scale": {"domain": ["TR0_St6_45m_1n","TR0_St6_45m_2n","TR0_St19_5m_3n","TR0_St21_5m_5n","TR0_St26_5m_7n","TR1_St81_140m_9n","TR1_St81_140m_10n","TR1_St86_105m_13n","TR1_St87_105m_15n","TR2_St96_5m_120n","TR2_St96_30m_121n","TR2_St96_50m_122n","TR2_St98_5m_125n","TR2_St98_50m_126n","TR2_St98_85m_127n","TR2_St101_5m_140n","TR2_St101_60m_141n","TR2_St101_110m_142n","TR2_St106_5m_155n","TR2_St106_60m_156n","TR2_St106_100m_157n","TR2_St114_5m_165n","TR2_St114_60m_166n","TR2_St114_80m_167n","TR2_StBloom_0m_tri01n","TR2_StBloom_0m_tri02n","TR2_StBloom_0m_tri03n"], "paddingInner": 0.1, "paddingOuter": 0.15},
              "axis": {"title": null, "labelAlign": "left", "labelPadding": 66, "labelFontSize": 6, "labelColor": "#4d4d4d", "tickSize": 3, "tickColor": "#333333", "tickWidth": 0.6, "domain": false, "grid": true, "gridColor": "#ebebeb", "gridWidth": 0.8}},
            "x": {"field": "pct", "type": "quantitative", "stack": "zero",
              "scale": {"domain": [-5.4, 101.3], "nice": false, "zero": false},
              "axis": {"title": "Percent of reads", "values": [0, 12.5, 25, 37.5, 50, 62.5, 75, 87.5, 100],
                "labelExpr": "datum.value % 25 === 0 ? datum.value + '%' : ''",
                "labelFontSize": 6.5, "labelColor": "#4d4d4d", "labelPadding": 1.5, "labelFlush": false, "labelOverlap": false,
                "tickSize": 3, "tickColor": "#333333", "tickWidth": 0.6,
                "tickOpacity": {"condition": {"test": "datum.value % 25 !== 0", "value": 0}, "value": 1},
                "domain": false, "grid": true, "gridColor": "#ebebeb",
                "gridWidth": {"condition": {"test": "datum.value % 25 !== 0", "value": 0.5}, "value": 0.9},
                "titleFontSize": 11.5, "titleFontWeight": "normal", "titleColor": "#000000", "titlePadding": 5}},
            "color": {"field": "taxon", "type": "nominal",
              "scale": {"domain": ["UCYN A1", "UCYN A2", "UCYN A3", "UCYN A4", "Trichodesmium"], "range": ["#045a8d", "#2b8cbe", "#74a9cf", "#a6bddb", "#d0d1e6"]},
              "legend": null},
            "order": {"field": "rank", "type": "quantitative"}
          }
        }
      ]
    }
  ]
}
